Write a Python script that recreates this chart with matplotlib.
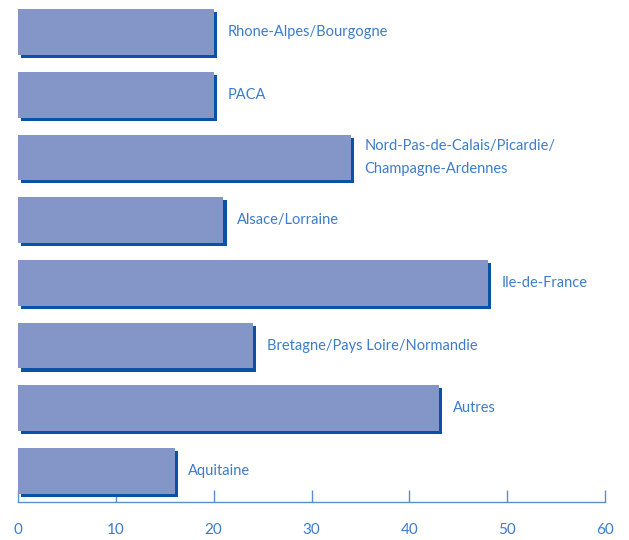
import matplotlib
matplotlib.use("Agg")
import matplotlib.pyplot as plt
import matplotlib.patheffects as pe

regions = [
    "Rhone-Alpes/Bourgogne",
    "PACA",
    "Nord-Pas-de-Calais/Picardie/\nChampagne-Ardennes",
    "Alsace/Lorraine",
    "Ile-de-France",
    "Bretagne/Pays Loire/Normandie",
    "Autres",
    "Aquitaine",
]
values = [20, 20, 34, 21, 48, 24, 43, 16]
x_ticks = [0, 10, 20, 30, 40, 50, 60]

bar_color = "#8496c8"
shadow_color = "#0a52a3"
text_color = "#3d7cc9"
axis_color = "#5b8fcb"

plt.rcParams["font.family"] = ["Lato", "DejaVu Sans"]

fig = plt.figure(figsize=(6.29, 5.4), dpi=100)
ax = fig.add_axes([18 / 629, 38 / 540, 587 / 629, 502 / 540])

ypos = list(range(len(regions)))[::-1]
bars = ax.barh(ypos, values, height=0.73, color=bar_color, zorder=3)
for b in bars:
    b.set_path_effects([
        pe.SimplePatchShadow(offset=(2.2, -2.2), shadow_rgbFace=shadow_color, alpha=1.0),
        pe.Normal(),
    ])

for y, v, name in zip(ypos, values, regions):
    ax.annotate(name, (v, y), xytext=(10, 0), textcoords="offset points",
                ha="left", va="center", fontsize=10.5, color=text_color,
                linespacing=1.75)

ax.set_xlim(0, 60)
ax.set_ylim(-0.494, 7.51)
ax.set_xticks(x_ticks)
ax.set_yticks([])
for s in ["top", "right", "left"]:
    ax.spines[s].set_visible(False)
ax.spines["bottom"].set_color(axis_color)
ax.spines["bottom"].set_linewidth(1.0)
ax.tick_params(axis="x", direction="in", length=8.5, width=1.0, color=axis_color,
               labelcolor=text_color, labelsize=11, pad=15)

fig.savefig("out.png", dpi=100)
